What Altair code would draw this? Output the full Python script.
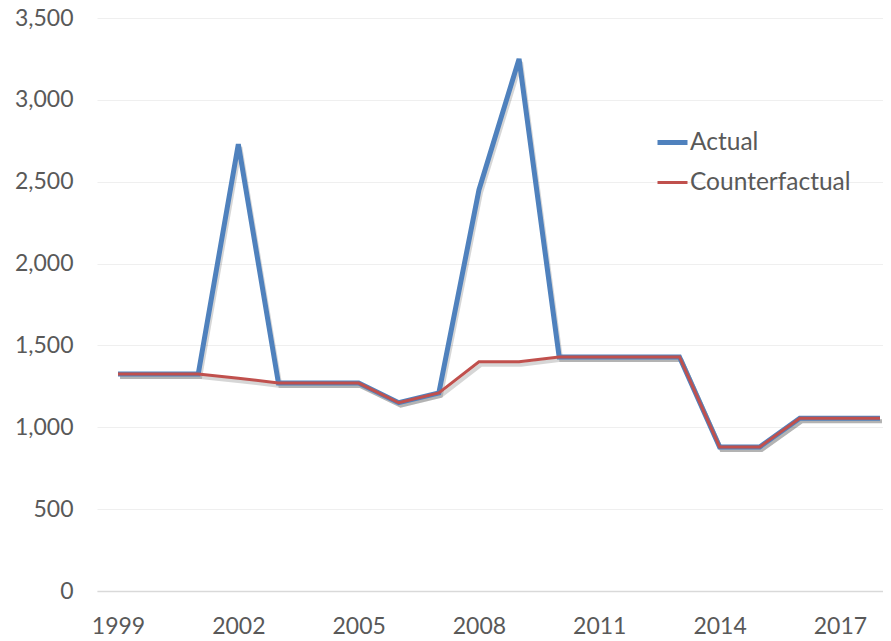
import altair as alt
import pandas as pd

years = list(range(1999, 2019))
actual = [1325, 1325, 1325, 2730, 1270, 1270, 1270, 1150, 1210, 2450, 3250, 1430, 1430, 1430, 1430, 880, 880, 1055, 1055, 1055]
counterfactual = [1325, 1325, 1325, 1300, 1270, 1270, 1270, 1150, 1210, 1400, 1400, 1430, 1430, 1430, 1430, 880, 880, 1055, 1055, 1055]
series_names = ["Actual", "Counterfactual"]
x_ticks = [1999, 2002, 2005, 2008, 2011, 2014, 2017]
y_ticks = [0, 500, 1000, 1500, 2000, 2500, 3000, 3500]

rows = []
for y, a, c in zip(years, actual, counterfactual):
    rows.append({"year": y, "value": a, "series": series_names[0]})
    rows.append({"year": y, "value": c, "series": series_names[1]})
df = pd.DataFrame(rows)

FONT = "Lato"
GREY = "#595959"

x_enc = alt.X("year:Q", scale=alt.Scale(domain=[1998.476, 2018.075], nice=False, zero=False),
              axis=alt.Axis(values=x_ticks, format="d", title=None, grid=False, ticks=False,
                            domain=True, domainColor="#D9D9D9", domainWidth=1.5,
                            labelFont=FONT, labelFontSize=23, labelColor=GREY, labelPadding=24))
y_enc = alt.Y("value:Q", scale=alt.Scale(domain=[0, 3500], nice=False),
              axis=alt.Axis(values=y_ticks, format=",.0f", title=None, grid=True, gridColor="#EFEFEF",
                            ticks=False, domain=False, labelFont=FONT, labelFontSize=23,
                            labelColor=GREY, labelPadding=24))

shadow = alt.Chart(df).mark_line(color="#000000", opacity=0.16, xOffset=2, yOffset=3, strokeWidth=4).encode(
    x=x_enc, y=y_enc, detail="series:N",
)

legend = alt.Legend(title=None, orient="none", legendX=558, legendY=107,
                    symbolType="stroke", symbolSize=900, labelFont=FONT, labelLimit=400,
                    labelFontSize=24.5, labelColor=GREY, labelOffset=0, rowPadding=12)

lines = alt.Chart(df).mark_line().encode(
    x=x_enc, y=y_enc,
    color=alt.Color("series:N", scale=alt.Scale(domain=series_names, range=["#4F81BD", "#C0504D"]),
                    legend=legend),
    strokeWidth=alt.StrokeWidth("series:N", scale=alt.Scale(domain=series_names, range=[5, 3]),
                                legend=legend),
)

chart = alt.layer(shadow, lines).properties(
    width=786, height=573,
    autosize=alt.AutoSizeParams(type="none"),
    padding={"left": 89, "top": 10, "right": 0, "bottom": 50},
).configure_view(stroke=None)

chart.save("out.html", embed_options={"renderer": "svg", "actions": False})
